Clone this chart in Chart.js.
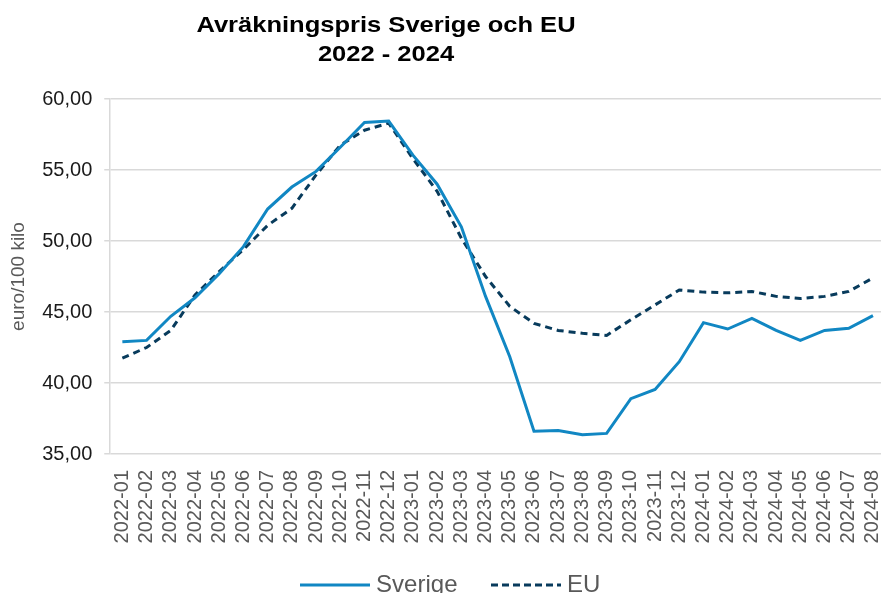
<!DOCTYPE html>
<html>
<head>
<meta charset="utf-8">
<script src="https://cdn.jsdelivr.net/npm/chart.js@4.4.1/dist/chart.umd.min.js"></script>
<style>
  html, body { margin: 0; padding: 0; background: #fff; overflow: hidden; }
  #wrap { width: 905px; height: 607px; }
</style>
</head>
<body>
<div id="wrap"><canvas id="chartOne" width="905" height="607"></canvas></div>
<script>
// months on the x axis
var labels = ["2022-01","2022-02","2022-03","2022-04","2022-05","2022-06","2022-07","2022-08","2022-09","2022-10","2022-11","2022-12",
              "2023-01","2023-02","2023-03","2023-04","2023-05","2023-06","2023-07","2023-08","2023-09","2023-10","2023-11","2023-12",
              "2024-01","2024-02","2024-03","2024-04","2024-05","2024-06","2024-07","2024-08"];

// euro/100 kilo
var sverige = [42.9, 43.0, 44.7, 46.0, 47.7, 49.6, 52.25, 53.8, 54.9, 56.6, 58.35, 58.45,
               56.05, 54.0, 51.0, 46.1, 41.85, 36.6, 36.65, 36.35, 36.45, 38.9, 39.55, 41.5,
               44.25, 43.8, 44.55, 43.7, 43.0, 43.7, 43.85, 44.75];
var eu = [41.75, 42.5, 43.7, 46.2, 47.85, 49.4, 51.1, 52.3, 54.65, 56.75, 57.8, 58.3,
          55.8, 53.5, 50.2, 47.5, 45.4, 44.2, 43.7, 43.5, 43.35, 44.45, 45.5, 46.55,
          46.4, 46.35, 46.45, 46.1, 45.95, 46.1, 46.45, 47.4];

var titleLines = ["Avräkningspris Sverige och EU", "2022 - 2024"];

// small line samples for the legend (solid / dashed)
function legendLine(color, dash){
    var c = document.createElement("canvas");
    c.width = 70;
    c.height = 6;
    var g = c.getContext("2d");
    g.strokeStyle = color;
    g.lineWidth = 3;
    g.setLineDash(dash);
    g.beginPath();
    g.moveTo(0, 3);
    g.lineTo(70, 3);
    g.stroke();
    return c;
}

var titlePlugin = {
    id: "topTitle",
    afterDraw: function(chart){
        var ctx = chart.ctx;
        ctx.save();
        ctx.fillStyle = "#000";
        ctx.font = 'bold 22px "Liberation Sans", Arial, sans-serif';
        ctx.textAlign = "center";
        ctx.textBaseline = "alphabetic";
        var baselines = [31.5, 61];
        titleLines.forEach(function(t, i){
            ctx.save();
            ctx.translate(386, baselines[i]);
            ctx.scale(1.16, 1);
            ctx.fillText(t, 0, 0);
            ctx.restore();
        });
        ctx.restore();
    }
};

function BuildChart(){
    var ctx = document.getElementById("chartOne").getContext("2d");
    Chart.defaults.font.family = '"Liberation Sans", Arial, sans-serif';
    var defaultLabels = Chart.defaults.plugins.legend.labels.generateLabels;

    return new Chart(ctx, {
        type: "line",
        data: {
            labels: labels,
            datasets: [{
                label: "Sverige",
                data: sverige,
                borderColor: "#1187c3",
                backgroundColor: "#1187c3",
                borderWidth: 3,
                pointRadius: 0,
                pointStyle: legendLine("#1187c3", []),
                tension: 0
            }, {
                label: "EU",
                data: eu,
                borderColor: "#083b5c",
                backgroundColor: "#083b5c",
                borderWidth: 3,
                borderDash: [7, 5],
                pointRadius: 0,
                pointStyle: legendLine("#083b5c", [7, 4]),
                tension: 0
            }]
        },
        options: {
            responsive: false,
            animation: false,
            layout: { padding: { top: 99, left: 3.4, right: 2, bottom: 0 } },
            plugins: {
                title: { display: false },
                tooltip: { enabled: false },
                legend: {
                    position: "bottom",
                    labels: {
                        usePointStyle: true,
                        pointStyleWidth: 58,
                        padding: 28,
                        color: "#595959",
                        font: { size: 24 },
                        // a bit more room between the two entries
                        generateLabels: function(chart){
                            var items = defaultLabels(chart);
                            items.forEach(function(it, i){
                                if (i < items.length - 1) it.text = it.text + "\u00a0\u2009";
                            });
                            return items;
                        }
                    }
                }
            },
            scales: {
                x: {
                    offset: true,
                    grid: { display: false },
                    border: { display: false },
                    ticks: {
                        autoSkip: false,
                        minRotation: 90,
                        maxRotation: 90,
                        padding: 8,
                        color: "#595959",
                        font: { size: 20 }
                    },
                    afterFit: function(scale){ scale.height = 91; }
                },
                y: {
                    min: 35,
                    max: 60,
                    ticks: {
                        stepSize: 5,
                        padding: 12,
                        color: "#1a1a1a",
                        font: { size: 20 },
                        callback: function(v){ return v.toFixed(2).replace(".", ","); }
                    },
                    grid: { color: "#d9d9d9", lineWidth: 1.5, tickLength: 6 },
                    border: { color: "#d9d9d9", width: 1.5 },
                    title: {
                        display: true,
                        text: "euro/100 kilo",
                        color: "#595959",
                        font: { size: 19 },
                        padding: { top: 4, bottom: 0 }
                    }
                }
            }
        },
        plugins: [titlePlugin]
    });
}

BuildChart();
</script>
</body>
</html>
